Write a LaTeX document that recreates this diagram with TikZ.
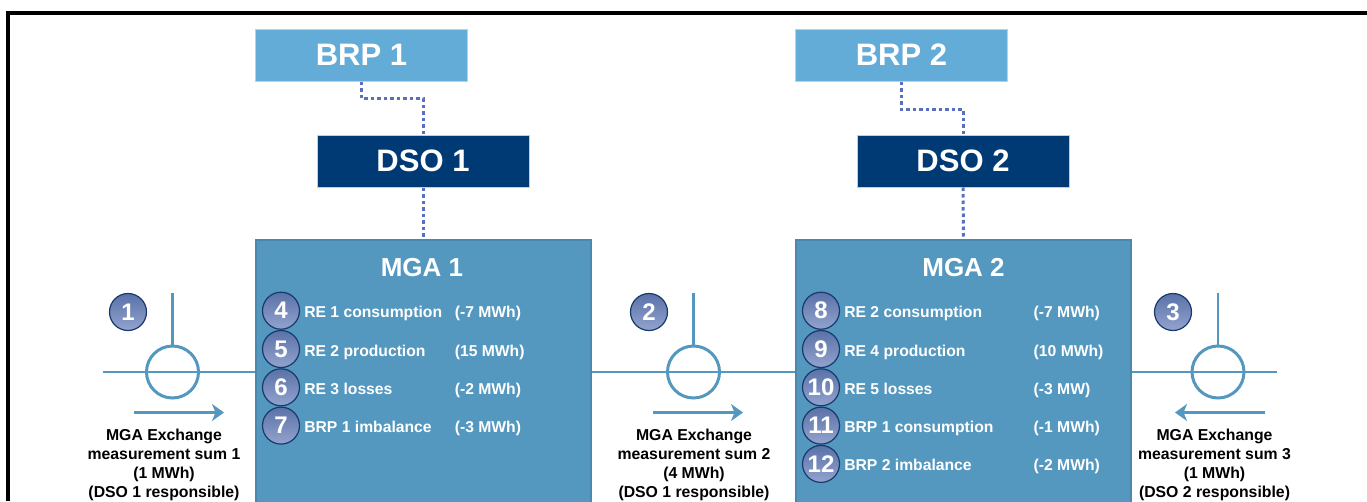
\documentclass[tikz,border=0pt]{standalone}
\usepackage{fontspec}
\setmainfont{Liberation Sans}
\usepackage{xcolor}
\usetikzlibrary{positioning, arrows.meta}
\definecolor{brpblue}{HTML}{63ACD8}
\definecolor{dsoblue}{HTML}{003A75}
\definecolor{mgablue}{HTML}{5498BF}
\definecolor{mgaedge}{HTML}{4A88AE}
\definecolor{linkblue}{HTML}{5A70BE}
\definecolor{badgetop}{HTML}{5A72A8}
\definecolor{badgelow}{HTML}{93A3CE}
\definecolor{badgeedge}{HTML}{17396B}

\begin{document}
\begin{tikzpicture}[x=1pt,y=-1pt,>={Stealth[length=12pt,width=17pt,inset=3.5pt]},node distance=38.3pt,
    brpbox/.style={draw=black!20,line width=1pt,fill=brpblue,text=white,font=\fontsize{31}{33}\selectfont\bfseries,minimum width=212pt,minimum height=52pt,inner sep=0pt},
    dsobox/.style={brpbox,fill=dsoblue},
    mgabox/.style={draw=mgaedge,line width=2pt,fill=mgablue,minimum width=335pt,minimum height=264pt,inner sep=0pt},
    mgatitle/.style={text=white,font=\fontsize{26}{28}\selectfont\bfseries,inner sep=0pt},
    badge/.style={circle,draw=badgeedge,line width=1.2pt,top color=badgetop,bottom color=badgelow,text=white,font=\fontsize{24}{24}\selectfont\bfseries,minimum size=37pt,inner sep=0pt},
    itemtext/.style={text=white,font=\fontsize{15.7}{17}\selectfont\bfseries,inner sep=0pt,anchor=west,text height=15pt,text depth=1pt},
    sumtext/.style={font=\fontsize{15.8}{19}\selectfont\bfseries,align=center,inner sep=0pt,anchor=north},
    meter/.style={circle,draw=mgablue,line width=3pt,minimum size=52pt,inner sep=0pt},
    wire/.style={draw=mgablue,line width=2.8pt},
    link/.style={draw=linkblue,line width=3pt,dash pattern=on 3.5pt off 3pt}]
      \clip (0,0) rectangle (1367,501);

      \draw[line width=4pt] (7.5,501) -- (7.5,12.5) -- (1367,12.5);

      \node[brpbox] (brp1) at (361.5,55) {BRP 1};
      \node[brpbox] (brp2) at (901.5,55) {BRP 2};
      \node[dsobox] (dso1) at (423,161) {DSO 1};
      \node[dsobox] (dso2) at (963,161) {DSO 2};
      \node[mgabox] (mga1) at (423,372) {};
      \node[mgabox] (mga2) at (963.5,372) {};
      \node[mgatitle] (title1) at (422,268) {MGA 1};
      \node[mgatitle] (title2) at (963.5,268) {MGA 2};

      \draw[link] (brp1.south) -- ++(0,17) -| (dso1.north);
      \draw[link] (brp2.south) -- ++(0,28) -| (dso2.north);
      \draw[link] (dso1.south) -- (mga1.north);
      \draw[link] (dso2.south) -- (mga2.north);

      % meters
      \node[meter] (m1) at (172.5,372) {};
      \node[meter] (m2) at (693.5,372) {};
      \node[meter] (m3) at (1218,372) {};
      \coordinate (w1) at (103,372);
      \coordinate (w3) at (1277,372);
      \coordinate (s1) at (172.5,293);
      \coordinate (s2) at (693.5,293);
      \coordinate (s3) at (1218,293);
      \draw[wire] (w1) -- (mga1.west |- m1);
      \draw[wire] (mga1.east |- m2) -- (mga2.west |- m2);
      \draw[wire] (mga2.east |- m3) -- (w3);
      \draw[wire] (s1) -- (m1.north);
      \draw[wire] (s2) -- (m2.north);
      \draw[wire] (s3) -- (m3.north);

      \coordinate (a1) at (134,412.5);
      \coordinate (e1) at (224,412.5);
      \coordinate (a2) at (653,412.5);
      \coordinate (e2) at (743,412.5);
      \coordinate (a3) at (1264.5,412.5);
      \coordinate (e3) at (1175,412.5);
      \draw[wire,->] (a1) -- (e1);
      \draw[wire,->] (a2) -- (e2);
      \draw[wire,->] (a3) -- (e3);

      \node[badge] (b1) at (128,312) {1};
      \node[badge] (b2) at (649,312) {2};
      \node[badge] (b3) at (1173,312) {3};

      \node[sumtext] (sum1) at (164,429) {MGA Exchange\\measurement sum 1\\(1 MWh)\\(DSO 1 responsible)};
      \node[sumtext] (sum2) at (694,429) {MGA Exchange\\measurement sum 2\\(4 MWh)\\(DSO 1 responsible)};
      \node[sumtext] (sum3) at (1214.5,429) {MGA Exchange\\measurement sum 3\\(1 MWh)\\(DSO 2 responsible)};

      % MGA 1 list
      \node[badge] (b4) at (281,310.7) {4};
      \node[badge] (b5) [below of=b4] {5};
      \node[badge] (b6) [below of=b5] {6};
      \node[badge] (b7) [below of=b6] {7};
      \node[itemtext] (t4) [right=4pt of b4] {RE 1 consumption};
      \node[itemtext] (t5) [right=4pt of b5] {RE 2 production};
      \node[itemtext] (t6) [right=4pt of b6] {RE 3 losses};
      \node[itemtext] (t7) [right=4pt of b7] {BRP 1 imbalance};
      \node[itemtext] (v4) at (454.6,310.7) {(-7 MWh)};
      \node[itemtext] (v5) at (454.6,349) {(15 MWh)};
      \node[itemtext] (v6) at (454.6,387.3) {(-2 MWh)};
      \node[itemtext] (v7) at (454.6,425.6) {(-3 MWh)};

      % MGA 2 list
      \node[badge] (b8) at (821,310.7) {8};
      \node[badge] (b9) [below of=b8] {9};
      \node[badge] (b10) [below of=b9] {10};
      \node[badge] (b11) [below of=b10] {11};
      \node[badge] (b12) [below of=b11] {12};
      \node[itemtext] (t8) [right=4pt of b8] {RE 2 consumption};
      \node[itemtext] (t9) [right=4pt of b9] {RE 4 production};
      \node[itemtext] (t10) [right=4pt of b10] {RE 5 losses};
      \node[itemtext] (t11) [right=4pt of b11] {BRP 1 consumption};
      \node[itemtext] (t12) [right=4pt of b12] {BRP 2 imbalance};
      \node[itemtext] (v8) at (1033.5,310.7) {(-7 MWh)};
      \node[itemtext] (v9) at (1033.5,349) {(10 MWh)};
      \node[itemtext] (v10) at (1033.5,387.3) {(-3 MW)};
      \node[itemtext] (v11) at (1033.5,425.6) {(-1 MWh)};
      \node[itemtext] (v12) at (1033.5,463.9) {(-2 MWh)};
\end{tikzpicture}
\end{document}
